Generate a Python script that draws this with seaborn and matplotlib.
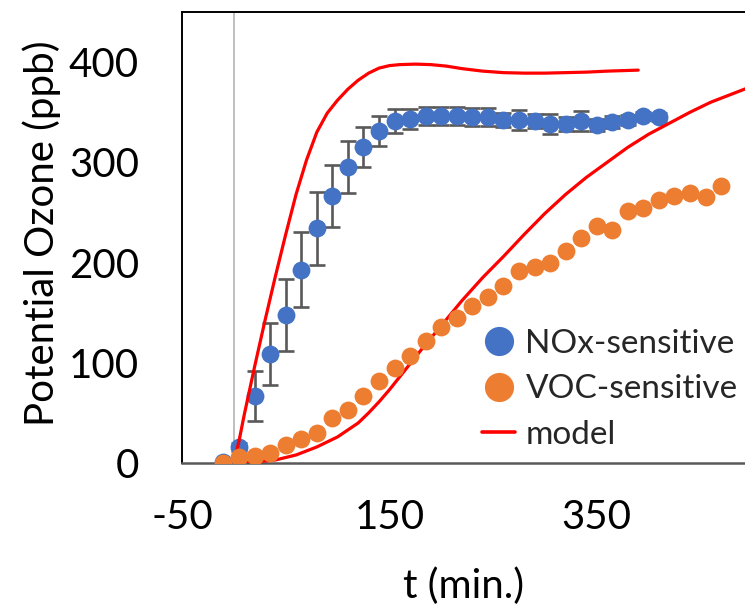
import numpy as np
import pandas as pd
import matplotlib
matplotlib.use("Agg")
import matplotlib.pyplot as plt
from matplotlib.lines import Line2D
import seaborn as sns

# Measured potential ozone, NOx-sensitive regime (mean and spread)
nox_t = [-10, 5, 20, 35, 50, 65, 80, 95, 110, 125, 140, 155, 170, 185, 200,
         215, 230, 245, 260, 275, 290, 305, 320, 335, 350, 365, 380, 395, 410]
nox_o3 = [1, 16, 67, 109, 148, 193, 234, 266, 295, 315, 331, 341, 343, 346, 346,
          346, 345, 345, 342, 342, 341, 338, 338, 341, 337, 340, 342, 346, 345]
nox_err = [0, 4, 25, 31, 36, 37, 36, 31, 26, 20, 15, 12, 10, 9, 9,
           9, 9, 9, 7, 10, 7, 10, 7, 10, 6, 6, 5, 4, 4]

# Measured potential ozone, VOC-sensitive regime
voc_t = [-10, 5, 20, 35, 50, 65, 80, 95, 110, 125, 140, 155, 170, 185, 200, 215, 230,
         245, 260, 275, 290, 305, 320, 335, 350, 365, 380, 395, 410, 425, 440, 455, 470]
voc_o3 = [0, 6, 7, 10, 18, 24, 30, 45, 53, 67, 82, 95, 107, 122, 136, 145, 157,
          166, 177, 192, 196, 200, 212, 225, 236, 232, 251, 254, 262, 266, 269, 265, 276]

# Model curve, NOx-sensitive case
model_nox_t = [0, 5, 10, 20, 30, 40, 50, 60, 70, 80, 90, 100, 110, 120, 130, 140, 150,
               160, 175, 190, 205, 220, 240, 260, 280, 300, 320, 340, 360, 375, 390]
model_nox_o3 = [0, 22, 48, 96, 142, 186, 228, 268, 302, 330, 349, 362, 373, 382, 389, 394, 396.5,
                397.5, 398, 397.5, 396, 393.5, 391, 389.5, 389, 389, 389.5, 390, 391, 391.5, 392]

# Model curve, VOC-sensitive case
model_voc_t = [0, 20, 40, 60, 80, 100, 110, 120, 130, 140, 150, 160, 170, 180, 200, 220, 240,
               260, 280, 300, 320, 340, 360, 380, 400, 420, 440, 460, 480, 500]
model_voc_o3 = [0, 1, 3, 8, 16, 26, 33, 40, 50, 61, 73, 86, 99, 112, 137, 162, 185,
                206, 228, 249, 268, 285, 300, 315, 328, 339, 350, 360, 368, 376]

x_ticks = [-50, 150, 350]
y_ticks = [0, 100, 200, 300, 400]

legend_labels = ["NOx-sensitive", "VOC-sensitive", "model"]

BLUE = "#4472C4"
ORANGE = "#ED7D31"
RED = "#FF0000"
BAR = "#595959"

sns.set_theme(style="white")
plt.rcParams["font.family"] = ["Lato", "DejaVu Sans"]
plt.rcParams["axes.unicode_minus"] = False

nox_df = pd.DataFrame({"t": nox_t, "o3": nox_o3, "err": nox_err})
voc_df = pd.DataFrame({"t": voc_t, "o3": voc_o3})
mn_df = pd.DataFrame({"t": model_nox_t, "o3": model_nox_o3})
mv_df = pd.DataFrame({"t": model_voc_t, "o3": model_voc_o3})

fig = plt.figure(figsize=(7.45, 6.07), dpi=100)
ax = fig.add_axes([182 / 745, 1 - 463 / 607, 1 - 182 / 745, (463 - 12) / 607])

# vertical reference at t = 0
ax.axvline(0, color="#BFBFBF", lw=1.4, zorder=1)

ax.errorbar(nox_df["t"], nox_df["o3"], yerr=nox_df["err"], fmt="none",
            ecolor=BAR, elinewidth=1.9, capsize=5.5, capthick=1.9, zorder=2)
sns.scatterplot(data=nox_df, x="t", y="o3", ax=ax, color=BLUE, s=165,
                linewidth=0, zorder=3, legend=False)
sns.lineplot(data=mn_df, x="t", y="o3", ax=ax, color=RED, lw=2.3, sort=False,
             zorder=4, legend=False)
sns.lineplot(data=mv_df, x="t", y="o3", ax=ax, color=RED, lw=2.3, sort=False,
             zorder=4, legend=False)
sns.scatterplot(data=voc_df, x="t", y="o3", ax=ax, color=ORANGE, s=165,
                linewidth=0, zorder=5, legend=False)

ax.set_xlim(-50, 493)
ax.set_ylim(0, 450)
ax.set_xticks(x_ticks)
ax.set_yticks(y_ticks)
ax.tick_params(axis="both", length=0, labelsize=29, colors="black")
ax.tick_params(axis="y", pad=31)
ax.tick_params(axis="x", pad=26)

for side in ["top", "left"]:
    ax.spines[side].set_color("black")
    ax.spines[side].set_linewidth(1.4)
ax.spines["bottom"].set_color(BAR)
ax.spines["bottom"].set_linewidth(1.8)
ax.spines["right"].set_visible(False)

ax.set_xlabel("t (min.)", fontsize=29, color="black")
ax.set_ylabel("Potential Ozone (ppb)", fontsize=29, color="black")
ax.xaxis.set_label_coords(0.5, -0.232)
ax.yaxis.set_label_coords(-0.215, 0.51)

handles = [
    Line2D([], [], ls="none", marker="o", ms=21, mfc=BLUE, mec=BLUE, mew=0),
    Line2D([], [], ls="none", marker="o", ms=21, mfc=ORANGE, mec=ORANGE, mew=0),
    Line2D([], [], color=RED, lw=2.6),
]
ax.legend(handles, legend_labels, loc="upper left", bbox_to_anchor=(0.533, 0.297),
          frameon=False, fontsize=24, handlelength=1.0, handletextpad=0.3,
          labelspacing=0.46, borderaxespad=0, borderpad=0)

fig.savefig("out.png", dpi=100)
